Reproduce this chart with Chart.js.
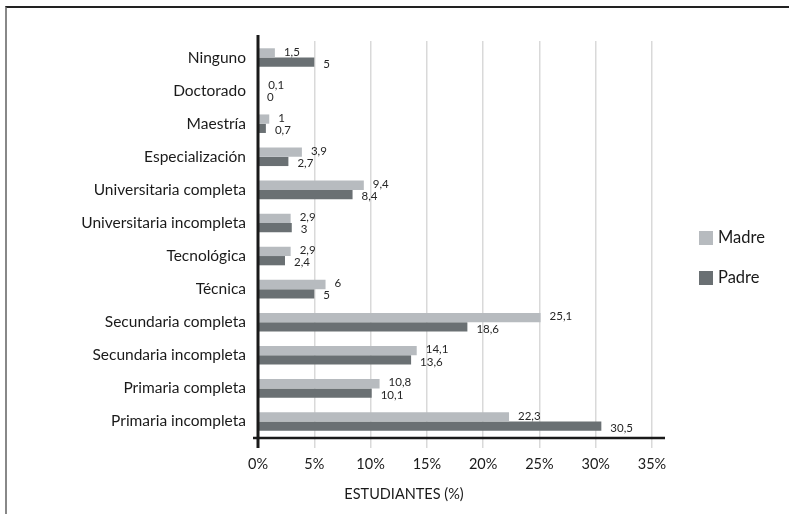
<!doctype html>
<html lang="es">
<head>
<meta charset="utf-8">
<title>Nivel educativo de los padres</title>
<script src="https://cdn.jsdelivr.net/npm/chart.js"></script>
<style>
  html, body { margin: 0; padding: 0; background: #fff; }
  #wrap { position: relative; width: 789px; height: 514px; overflow: hidden; }
  #frame {
    position: absolute; left: 5px; top: 6px; right: -10px; bottom: -10px;
    border-top: 2px solid #222; border-left: 2px solid #888;
  }
  #myChart { position: absolute; left: 0; top: 0; }
</style>
</head>
<body>
<div id="wrap">
  <div id="frame"></div>
  <canvas id="myChart" width="789" height="514"></canvas>
</div>
<script>
const categories = ['Ninguno', 'Doctorado', 'Maestría', 'Especialización', 'Universitaria completa',
  'Universitaria incompleta', 'Tecnológica', 'Técnica', 'Secundaria completa',
  'Secundaria incompleta', 'Primaria completa', 'Primaria incompleta'];
const madre = [1.5, 0.1, 1, 3.9, 9.4, 2.9, 2.9, 6, 25.1, 14.1, 10.8, 22.3];
const padre = [5, 0, 0.7, 2.7, 8.4, 3, 2.4, 5, 18.6, 13.6, 10.1, 30.5];
const xTicks = [0, 5, 10, 15, 20, 25, 30, 35];
const xTitle = 'ESTUDIANTES (%)';

const FONT = 'Lato, "Open Sans", sans-serif';

// etiquetas de valor con coma decimal
const valueLabels = {
  id: 'valueLabels',
  afterDatasetsDraw(chart) {
    const ctx = chart.ctx;
    ctx.save();
    ctx.font = '11.5px ' + FONT;
    ctx.fillStyle = '#262626';
    ctx.textAlign = 'left';
    ctx.textBaseline = 'middle';
    chart.data.datasets.forEach((ds, i) => {
      chart.getDatasetMeta(i).data.forEach((bar, j) => {
        const txt = String(ds.data[j]).replace('.', ',');
        ctx.fillText(txt, bar.x + 9, bar.y + (i === 1 ? 2 : -1));
      });
    });
    ctx.restore();
  }
};

// ejes negros, titulo del eje x y leyenda a la derecha
const axesAndLegend = {
  id: 'axesAndLegend',
  afterDraw(chart) {
    const ctx = chart.ctx;
    const a = chart.chartArea;
    ctx.save();
    ctx.strokeStyle = '#1a1a1a';
    ctx.lineWidth = 3;
    ctx.beginPath();
    ctx.moveTo(a.left, a.top - 6);
    ctx.lineTo(a.left, a.bottom + 10);
    ctx.stroke();
    ctx.lineWidth = 2.5;
    ctx.beginPath();
    ctx.moveTo(a.left - 5, a.bottom);
    ctx.lineTo(a.right + 13, a.bottom);
    ctx.stroke();

    ctx.fillStyle = '#1a1a1a';
    ctx.font = '14.5px ' + FONT;
    ctx.textAlign = 'center';
    ctx.textBaseline = 'middle';
    ctx.fillText(xTitle, 404, 494);

    ctx.font = '16.5px ' + FONT;
    ctx.textAlign = 'left';
    chart.data.datasets.forEach((ds, i) => {
      const y = 238 + i * 40;
      ctx.fillStyle = ds.backgroundColor;
      ctx.fillRect(699, y - 7, 14, 14);
      ctx.fillStyle = '#1a1a1a';
      ctx.fillText(ds.label, 718, y);
    });
    ctx.restore();
  }
};

new Chart(document.getElementById('myChart'), {
  type: 'bar',
  data: {
    labels: categories,
    datasets: [
      { label: 'Madre', data: madre, backgroundColor: '#b7bbbf' },
      { label: 'Padre', data: padre, backgroundColor: '#6a7073' }
    ]
  },
  options: {
    indexAxis: 'y',
    responsive: false,
    animation: false,
    layout: { padding: { top: 41, right: 137, bottom: 0, left: 0 } },
    datasets: { bar: { categoryPercentage: 0.56, barPercentage: 1 } },
    plugins: {
      legend: { display: false },
      tooltip: { enabled: false }
    },
    scales: {
      x: {
        min: 0, max: 35,
        afterBuildTicks: s => { s.ticks = xTicks.map(v => ({ value: v })); },
        afterFit: s => { s.height = 76; },
        grid: { color: '#d9d9d9', lineWidth: 1.5, tickLength: 10 },
        border: { display: false },
        ticks: {
          padding: 8,
          color: '#1a1a1a',
          font: { family: FONT, size: 14.5 },
          callback: v => v + '%'
        }
      },
      y: {
        afterFit: s => { s.width = 258; },
        grid: { display: false },
        border: { display: false },
        ticks: {
          padding: 4,
          color: '#1a1a1a',
          font: { family: FONT, size: 15.5 }
        }
      }
    }
  },
  plugins: [valueLabels, axesAndLegend]
});
</script>
</body>
</html>
